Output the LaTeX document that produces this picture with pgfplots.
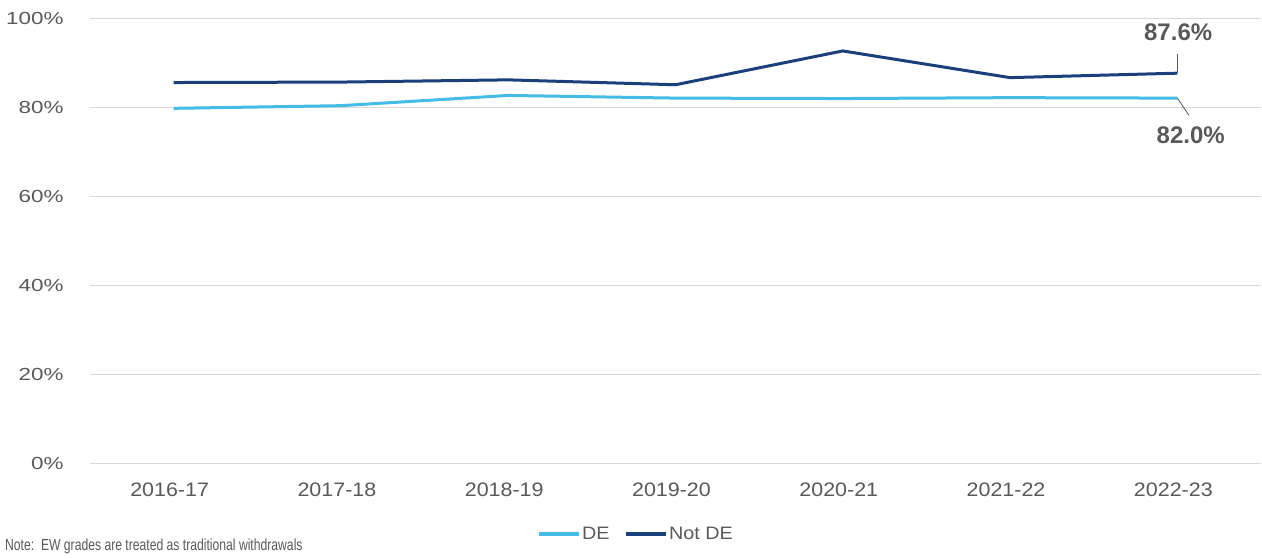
\documentclass[border=0pt]{standalone}
\usepackage{pgfplots}
\pgfplotsset{compat=1.18}
\usepackage{fontspec}
\setmainfont{Liberation Sans}
\newfontfamily\narrowfont{Liberation Sans}[FakeStretch=0.76]
\newfontfamily\tickfont{Liberation Sans}[FakeStretch=1.1]
\newfontfamily\ytickfont{Liberation Sans}[FakeStretch=1.28]
\definecolor{deblue}{HTML}{45BCE8}
\definecolor{navy}{HTML}{1B3F7A}
\definecolor{gridgray}{HTML}{D9D9D9}
\definecolor{txtgray}{HTML}{595959}
\begin{document}
\begin{tikzpicture}
\useasboundingbox (-90pt,-95pt) rectangle (1172pt,463pt);
\begin{axis}[
  at={(0pt,0pt)}, anchor=south west,
  scale only axis, width=1171pt, height=445pt,
  xmin=-0.5, xmax=6.5, ymin=0, ymax=100,
  xtick={0,1,2,3,4,5,6},
  xticklabels={2016-17,2017-18,2018-19,2019-20,2020-21,2021-22,2022-23},
  ytick={0,20,40,60,80,100},
  yticklabels={0\%,20\%,40\%,60\%,80\%,100\%},
  ymajorgrids, grid style={gridgray, line width=1pt},
  axis line style={draw=none},
  major tick style={draw=none},
  ticklabel style={text=txtgray},
  xticklabel style={font=\tickfont\fontsize{19.5}{19.5}\selectfont, yshift=-16pt, xshift=-4pt},
  yticklabel style={font=\ytickfont\fontsize{17.5}{17.5}\selectfont, xshift=-23pt},
  clip=false,
  legend columns=2,
  legend style={at={(rel axis cs:0.466,-0.160)}, anchor=center, draw=none, fill=none,
    font=\tickfont\fontsize{18}{18}\selectfont, text=txtgray,
    /tikz/every even column/.append style={column sep=14pt},
    /tikz/every odd column/.append style={inner xsep=0pt},
    nodes={inner xsep=1pt}},
  legend image code/.code={\draw[#1, line width=3.5pt] (0pt,0pt) -- (40pt,0pt);},
]
\addplot[deblue, line width=3pt] coordinates {(0,79.7) (1,80.3) (2,82.6) (3,82.0) (4,81.9) (5,82.1) (6,82.0)};
\addlegendentry{DE}
\addplot[navy, line width=3pt] coordinates {(0,85.5) (1,85.6) (2,86.1) (3,85.0) (4,92.6) (5,86.6) (6,87.6)};
\addlegendentry{Not DE}
\draw[txtgray, line width=0.8pt] (axis cs:6,87.6) -- (axis cs:6,91.9);
\draw[txtgray, line width=0.8pt] (axis cs:6,82.0) -- (axis cs:6.07,78.1);
\node[font=\bfseries\fontsize{24}{24}\selectfont, text=txtgray] at (axis cs:6.005,96.9) {87.6\%};
\node[font=\bfseries\fontsize{24}{24}\selectfont, text=txtgray] at (axis cs:6.08,73.7) {82.0\%};
\end{axis}
\node[anchor=west, font=\narrowfont\fontsize{16}{16}\selectfont, text=txtgray, inner sep=0pt] at (-85pt,-83pt) {Note:\ \ EW grades are treated as traditional withdrawals};
\end{tikzpicture}
\end{document}
